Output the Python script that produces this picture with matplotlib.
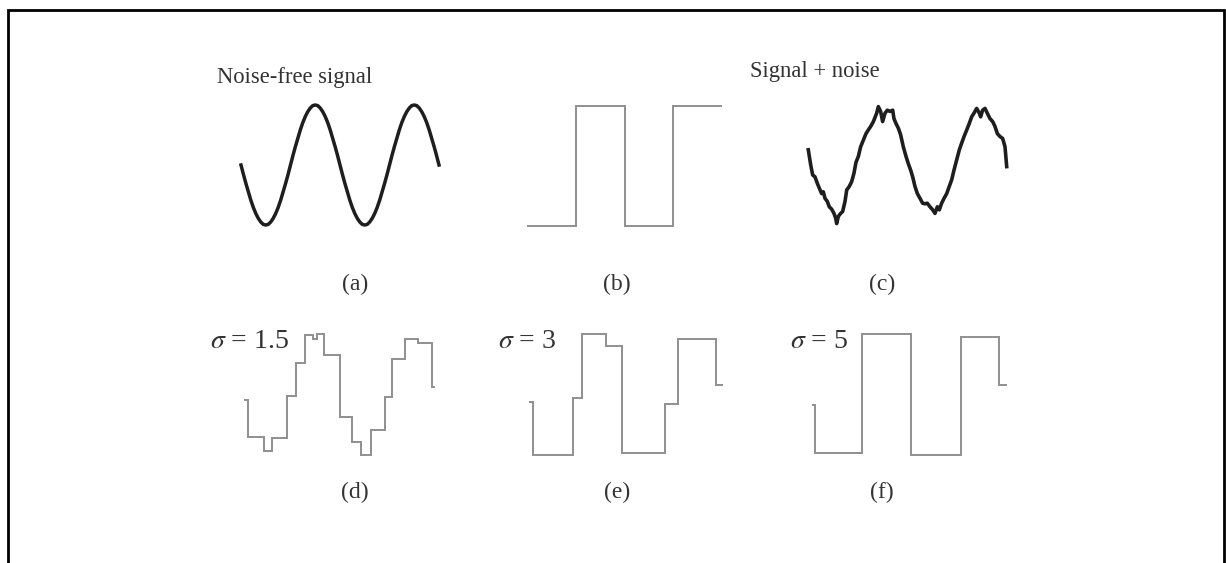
import numpy as np
import matplotlib
matplotlib.use('Agg')
import matplotlib.pyplot as plt
from matplotlib.patches import Rectangle

plt.rcParams['font.family'] = ['Liberation Serif', 'DejaVu Serif']
plt.rcParams['mathtext.fontset'] = 'stix'

# (a) noise-free signal, sampled every 0.025 over two periods
sine_q = [0.0, 0.16, 0.31, 0.45, 0.59, 0.71, 0.81, 0.89, 0.95, 0.99, 1.0,
          0.99, 0.95, 0.89, 0.81, 0.71, 0.59, 0.45, 0.31, 0.16]
clean_v = [-s for s in sine_q] + [s for s in sine_q]
clean_v = clean_v + clean_v + [0.0]
clean_t = [i * 0.025 for i in range(len(clean_v))]

# (b) square wave
square_edges = [0.0, 0.5, 1.0, 1.5, 2.0]
square_levels = [-1.0, 1.0, -1.0, 1.0]

# (c) signal + noise
noisy_t = [0.003, 0.027, 0.047, 0.070, 0.094, 0.114, 0.137, 0.154, 0.171, 0.194,
           0.214, 0.238, 0.261, 0.278, 0.288, 0.305, 0.328, 0.348, 0.372, 0.389,
           0.415, 0.439, 0.462, 0.482, 0.506, 0.529, 0.556, 0.583, 0.606, 0.630,
           0.657, 0.690, 0.707, 0.730, 0.750, 0.774, 0.797, 0.824, 0.851, 0.864,
           0.884, 0.908, 0.931, 0.958, 0.985, 1.008, 1.032, 1.052, 1.075, 1.099,
           1.126, 1.152, 1.176, 1.199, 1.226, 1.253, 1.276, 1.300, 1.320, 1.343,
           1.367, 1.394, 1.420, 1.444, 1.467, 1.494, 1.521, 1.544, 1.568, 1.595,
           1.621, 1.645, 1.668, 1.695, 1.722, 1.735, 1.755, 1.779, 1.802, 1.829,
           1.856, 1.879, 1.903, 1.930, 1.956, 1.980, 1.997]
noisy_v = [0.22, -0.03, -0.20, -0.23, -0.34, -0.42, -0.51, -0.48, -0.59, -0.64,
           -0.73, -0.77, -0.84, -0.92, -1.01, -0.89, -0.84, -0.81, -0.64, -0.45,
           -0.39, -0.31, -0.17, 0.01, 0.11, 0.27, 0.38, 0.49, 0.55, 0.61,
           0.69, 0.83, 0.94, 0.86, 0.69, 0.83, 0.88, 0.86, 0.88, 0.74,
           0.66, 0.58, 0.47, 0.27, 0.11, -0.01, -0.12, -0.23, -0.39, -0.51,
           -0.59, -0.67, -0.68, -0.67, -0.73, -0.78, -0.84, -0.73, -0.78, -0.67,
           -0.59, -0.51, -0.39, -0.28, -0.12, 0.05, 0.22, 0.33, 0.44, 0.55,
           0.66, 0.77, 0.83, 0.91, 0.83, 0.77, 0.88, 0.91, 0.83, 0.74,
           0.69, 0.61, 0.49, 0.44, 0.41, 0.27, -0.06]

# (d) sigma = 1.5
d_edges = [0.0, 0.042, 0.21, 0.29, 0.45, 0.545, 0.64, 0.72, 0.76, 0.84, 1.005,
           1.13, 1.225, 1.33, 1.476, 1.55, 1.686, 1.822, 1.969, 2.0]
d_levels = [-0.08, -0.70, -0.93, -0.72, -0.02, 0.53, 1.0, 0.93, 1.02, 0.67,
            -0.37, -0.78, -1.0, -0.58, -0.03, 0.60, 0.93, 0.87, 0.13]

# (e) sigma = 3
e_edges = [0.0, 0.041, 0.454, 0.546, 0.794, 0.959, 1.402, 1.536, 1.928, 2.0]
e_levels = [-0.13, -1.0, -0.05, 1.0, 0.80, -0.97, -0.15, 0.92, 0.16]

# (f) sigma = 5
f_edges = [0.0, 0.031, 0.513, 1.015, 1.528, 1.918, 2.0]
f_levels = [-0.18, -0.97, 1.0, -1.0, 0.95, 0.16]

W, H = 1226, 563
fig = plt.figure(figsize=(W / 100, H / 100), dpi=100)


def panel(x0, x1, y0, y1):
    ax = fig.add_axes([x0 / W, 1 - y1 / H, (x1 - x0) / W, (y1 - y0) / H])
    ax.set_xlim(0, 2)
    ax.set_ylim(-1, 1)
    ax.axis('off')
    return ax


dark = '#1e1e1e'
grey = '#8f8f8f'

ax = panel(241, 439, 105, 225)
ax.plot(clean_t, clean_v, color=dark, lw=2.5, clip_on=False)

ax = panel(527, 722, 106, 226)
ax.stairs(square_levels, square_edges, baseline=None, color=grey, lw=1.4, clip_on=False)

ax = panel(808, 1007, 103, 223)
ax.plot(noisy_t, noisy_v, color=dark, lw=2.6, clip_on=False)

ax = panel(244, 435, 335, 455)
ax.stairs(d_levels, d_edges, baseline=None, color=grey, lw=1.4, clip_on=False)

ax = panel(529, 723, 334, 455)
ax.stairs(e_levels, e_edges, baseline=None, color=grey, lw=1.4, clip_on=False)

ax = panel(812, 1007, 334, 455)
ax.stairs(f_levels, f_edges, baseline=None, color=grey, lw=1.4, clip_on=False)

tc = '#333333'
fig.text(217 / W, 1 - 78 / H, 'Noise-free signal', fontsize=16.3, color=tc, va='center')
fig.text(750 / W, 1 - 71 / H, 'Signal + noise', fontsize=16.3, color=tc, va='center')
fig.text(210 / W, 1 - 342 / H, r'$\sigma$ = 1.5', fontsize=20, color=tc, va='center')
fig.text(498 / W, 1 - 342 / H, r'$\sigma$ = 3', fontsize=20, color=tc, va='center')
fig.text(790 / W, 1 - 342 / H, r'$\sigma$ = 5', fontsize=20, color=tc, va='center')

for lab, x, y in [('(a)', 355, 284), ('(b)', 617, 284), ('(c)', 882, 284),
                  ('(d)', 355, 492), ('(e)', 617, 492), ('(f)', 882, 492)]:
    fig.text(x / W, 1 - y / H, lab, fontsize=17, color=tc, ha='center', va='center')

fig.patches.append(Rectangle((7.5 / W, -0.05), 1216 / W, 1.05 - 10 / H,
                             transform=fig.transFigure, fill=False,
                             edgecolor='black', lw=2.0))

fig.savefig('out.png', dpi=100)
